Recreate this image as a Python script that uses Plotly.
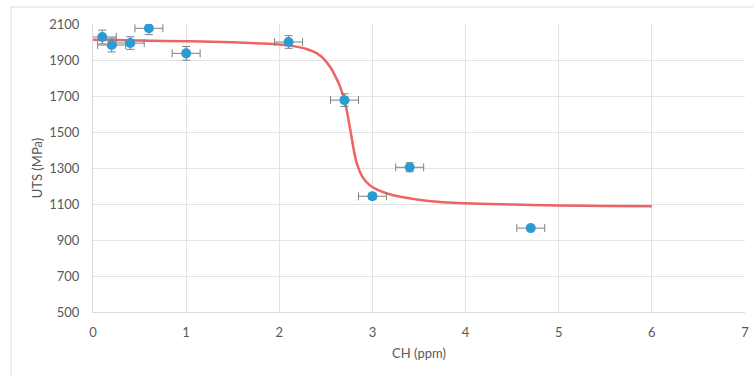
import plotly.graph_objects as go

# measured data
ch_ppm = [0.1, 0.2, 0.4, 0.6, 1.0, 2.1, 2.7, 3.0, 3.4, 4.7]
uts_mpa = [2028, 1983, 1994, 2076, 1937, 2000, 1677, 1143, 1304, 966]
ch_err = [0.15, 0.15, 0.15, 0.15, 0.15, 0.15, 0.15, 0.15, 0.15, 0.15]
uts_err = [38, 38, 35, 35, 38, 35, 35, 18, 25, 12]

# fitted curve
fit_x = [0, 0.5, 1.0, 1.5, 1.8, 2.0, 2.15, 2.3, 2.4, 2.48, 2.55, 2.6, 2.65, 2.7, 2.76,
         2.83, 2.9, 2.97, 3.05, 3.15, 3.3, 3.6, 4.0, 4.5, 5.0, 5.5, 6.0]
fit_y = [2012, 2008, 2004, 1998, 1992, 1986, 1977, 1960, 1938, 1905, 1858, 1812, 1755, 1678, 1520,
         1330, 1245, 1205, 1180, 1160, 1140, 1117, 1104, 1097, 1092, 1089, 1087]

x_ticks = [0, 1, 2, 3, 4, 5, 6, 7]
y_ticks = [500, 700, 900, 1100, 1300, 1500, 1700, 1900, 2100]

font = "Lato, 'Open Sans', sans-serif"
grey = "#595959"

fig = go.Figure()
fig.add_trace(go.Scatter(
    x=fit_x, y=fit_y, mode="lines", line=dict(color="#EE6363", width=2.5, shape="spline", smoothing=1.0),
    hoverinfo="skip", showlegend=False))
fig.add_trace(go.Scatter(
    x=ch_ppm, y=uts_mpa, mode="markers",
    marker=dict(color="#2B9BD4", size=10),
    error_x=dict(type="data", array=ch_err, color="#808080", thickness=1, width=4),
    error_y=dict(type="data", array=uts_err, color="#808080", thickness=1, width=4),
    showlegend=False))

fig.add_shape(type="rect", xref="paper", yref="paper", x0=-0.1258, y0=-0.4, x1=1.2, y1=1.059,
              line=dict(color="#D9D9D9", width=1), fillcolor="rgba(0,0,0,0)", layer="below")

fig.update_layout(
    width=753, height=376,
    margin=dict(l=93, r=8, t=24, b=64, autoexpand=False),
    paper_bgcolor="white", plot_bgcolor="white",
    font=dict(family=font, color=grey, size=13),
    xaxis=dict(range=[0, 7], tickvals=x_ticks, showgrid=True, gridcolor="#E3E3E3", gridwidth=1,
               zeroline=False, showline=True, linecolor="#D9D9D9", linewidth=1, automargin=False,
               ticks="", ticklabelstandoff=8,
               title=dict(text="CH (ppm)", font=dict(size=13, color=grey), standoff=10)),
    yaxis=dict(range=[500, 2100], tickvals=y_ticks, showgrid=True, gridcolor="#E3E3E3", gridwidth=1,
               zeroline=False, showline=True, linecolor="#D9D9D9", linewidth=1, automargin=False,
               ticks="", ticklabelstandoff=10,
               title=dict(text="UTS (MPa)", font=dict(size=13, color=grey), standoff=3)),
)

fig.write_html("out.html", config={"displayModeBar": False},
               post_script="document.body.style.margin='0';document.body.style.overflow='hidden';")
